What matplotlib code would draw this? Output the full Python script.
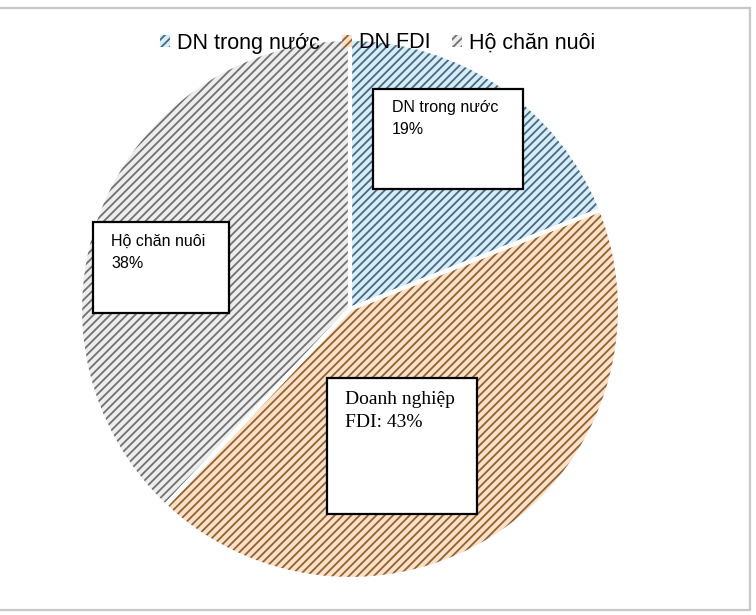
import matplotlib.pyplot as plt
from matplotlib.patches import Patch, Rectangle

# ---------------- data ----------------
labels = ['DN trong nước', 'DN FDI', 'Hộ chăn nuôi']
shares = [19, 43, 38]
box_texts = ['DN trong nước\n19%', 'Doanh nghiệp\nFDI: 43%', 'Hộ chăn nuôi\n38%']

fill_colors = ['#D8EBF9', '#FCE0C8', '#EDEDED']
line_colors = ['#456B82', '#93612F', '#707070']

# ---------------- figure ----------------
W, H = 756, 615
plt.rcParams['font.family'] = ['Liberation Sans', 'DejaVu Sans']
plt.rcParams['hatch.linewidth'] = 1.3

fig = plt.figure(figsize=(W / 100, H / 100), dpi=100)
ax = fig.add_axes([0, 0, 1, 1])

# pie, y axis flipped so startangle -90 points up and slices run clockwise
wedges, _ = ax.pie(shares, colors=fill_colors, startangle=-90, counterclock=True,
                   center=(350, 309), radius=270,
                   wedgeprops=dict(linewidth=0))
for w, lc in zip(wedges, line_colors):
    w.set_edgecolor(lc)
    w.set_hatch('////')
    w.set_linewidth(0)

# white separators on top
ax.pie(shares, colors=['none'] * 3, startangle=-90, counterclock=True,
       center=(350, 309), radius=270,
       wedgeprops=dict(linewidth=3, edgecolor='white', facecolor='none'))

ax.set_xlim(0, W)
ax.set_ylim(H, 0)
ax.set_aspect('auto')
ax.axis('off')

# ---------------- label boxes ----------------
boxes = [(373, 89, 150, 100), (327, 378, 150, 136), (93, 222, 136, 91)]
text_pos = [(392, 100), (345, 391), (111, 234)]
text_style = [dict(fontsize=11.5, family=['Liberation Sans', 'DejaVu Sans'], linespacing=1.55),
              dict(fontsize=14, family=['Liberation Serif', 'DejaVu Serif'], linespacing=1.45),
              dict(fontsize=11.5, family=['Liberation Sans', 'DejaVu Sans'], linespacing=1.55)]

for (bx, by, bw, bh), (tx, ty), txt, st in zip(boxes, text_pos, box_texts, text_style):
    ax.add_patch(Rectangle((bx, by), bw, bh, facecolor='white', edgecolor='black',
                           linewidth=1.6, zorder=5))
    ax.text(tx, ty, txt, ha='left', va='top', color='black', zorder=6, **st)

# ---------------- legend ----------------
handles = [Patch(facecolor=fc, edgecolor=lc, hatch='////', linewidth=0)
           for fc, lc in zip(fill_colors, line_colors)]
ax.legend(handles, labels, loc='center', bbox_to_anchor=(378 / W, 1 - 43 / H),
          ncol=3, frameon=False, fontsize=15.5, handlelength=0.45, handleheight=0.45,
          handletextpad=0.35, columnspacing=1.0)

# outer frame
ax.add_patch(Rectangle((-5, 7.5), 755, 602.5, facecolor='none', edgecolor='#C8C8C8',
                       linewidth=1.6, clip_on=False, zorder=10))

fig.savefig('out.png', dpi=100)
